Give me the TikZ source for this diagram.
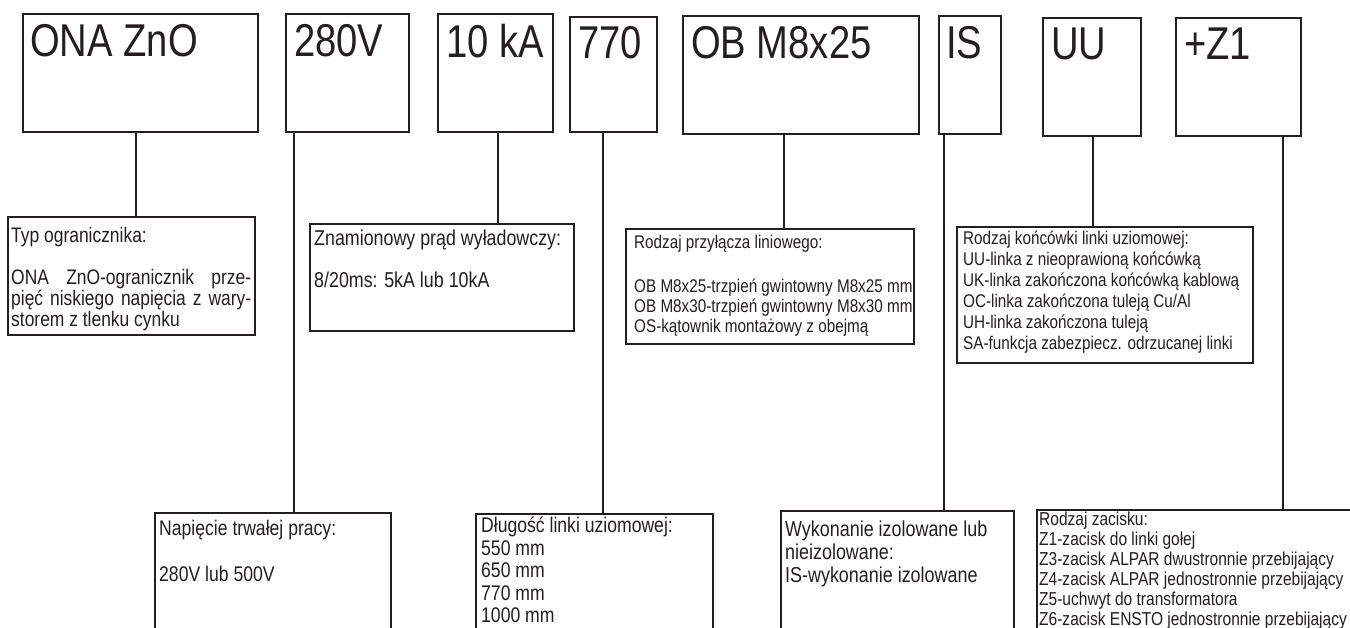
\documentclass[tikz,border=0pt]{standalone}
\usepackage{fontspec}
\setmainfont{Liberation Sans}[FakeStretch=0.83]
\definecolor{ink}{RGB}{35,31,32}
\newcommand{\myfs}[2]{\fontsize{#1}{#2}\selectfont}
\tikzset{
  topbox/.style={draw=ink, line width=1.7pt, inner sep=0pt, anchor=north west},
  descbox/.style={draw=ink, line width=2.3pt, inner sep=0pt, anchor=north west},
  conn/.style={draw=ink, line width=2.5pt},
  bigtxt/.style={anchor=north west, inner sep=0pt, text=ink, font=\myfs{46}{48}},
  txtA/.style={anchor=north west, inner sep=0pt, align=left, text=ink, font=\myfs{21}{21}},
  txtS/.style={anchor=north west, inner sep=0pt, align=left, text=ink, font=\myfs{18.4}{20}},
  txtB/.style={anchor=north west, inner sep=0pt, align=left, text=ink, font=\myfs{21.2}{23}},
}
\begin{document}
\begin{tikzpicture}[x=1pt,y=-1pt]
\useasboundingbox (0,0) rectangle (1350,628);
\clip (0,0) rectangle (1350,628);
\fill[white] (0,0) rectangle (1350,628);
% top boxes
\node[topbox, minimum width=235pt, minimum height=118pt] (t1) at (22,13) {};
\node[topbox, minimum width=123pt, minimum height=118pt] (t2) at (285,13) {};
\node[topbox, minimum width=115pt, minimum height=118pt] (t3) at (437,13) {};
\node[topbox, minimum width=87pt,  minimum height=115pt] (t4) at (569,16) {};
\node[topbox, minimum width=236pt, minimum height=118pt] (t5) at (682,15) {};
\node[topbox, minimum width=62pt,  minimum height=118pt] (t6) at (938,15) {};
\node[topbox, minimum width=98pt,  minimum height=118pt] (t7) at (1042,17) {};
\node[topbox, minimum width=125pt, minimum height=118pt] (t8) at (1175,17) {};
\node[bigtxt] (t1l) at ([xshift=8pt,yshift=-11pt]t1.north west) {ONA ZnO};
\node[bigtxt] (t2l) at ([xshift=9pt,yshift=-11pt]t2.north west) {280V};
\node[bigtxt] (t3l) at ([xshift=9pt,yshift=-11pt]t3.north west) {10 kA};
\node[bigtxt] (t4l) at ([xshift=9pt,yshift=-10pt]t4.north west) {770};
\node[bigtxt] (t5l) at ([xshift=9pt,yshift=-11pt]t5.north west) {OB M8x25};
\node[bigtxt] (t6l) at ([xshift=8pt,yshift=-11pt]t6.north west) {IS};
\node[bigtxt] (t7l) at ([xshift=9pt,yshift=-11pt]t7.north west) {UU};
\node[bigtxt] (t8l) at ([xshift=9pt,yshift=-11pt]t8.north west) {+Z1};
% description boxes, upper row
\node[descbox, minimum width=247pt, minimum height=118pt] (a) at (7,216) {};
\node[descbox, minimum width=264pt, minimum height=107pt] (b) at (309,223) {};
\node[descbox, minimum width=288pt, minimum height=115pt] (c) at (625,228) {};
\node[descbox, minimum width=296pt, minimum height=136pt] (d) at (956,226) {};
% description boxes, lower row (run past the lower edge)
\node[descbox, minimum width=236pt, minimum height=140pt] (e) at (154,512) {};
\node[descbox, minimum width=237pt, minimum height=140pt] (f) at (475,513) {};
\node[descbox, minimum width=233pt, minimum height=140pt] (g) at (780,510) {};
\node[descbox, minimum width=340pt, minimum height=140pt] (h) at (1036,509) {};
% texts
\node[txtA] (at) at ([xshift=4pt,yshift=-11pt]a.north west)
  {Typ ogranicznika:\\[21pt]\makebox[240pt][s]{ONA ZnO-ogranicznik prze-}\\\makebox[240pt][s]{pięć niskiego napięcia z wary-}\\storem z tlenku cynku};
\node[txtA, font=\myfs{21.5}{21}] (bt) at ([xshift=5pt,yshift=-7pt]b.north west)
  {Znamionowy prąd wyładowczy:\\[21pt]8/20ms: 5kA lub 10kA};
\node[txtS] (ct) at ([xshift=9pt,yshift=-7pt]c.north west)
  {Rodzaj przyłącza liniowego:\\[24pt]OB M8x25-trzpień gwintowny M8x25 mm\\OB M8x30-trzpień gwintowny M8x30 mm\\OS-kątownik montażowy z obejmą};
\node[txtS, font=\myfs{18.4}{21}] (dt) at ([xshift=7pt,yshift=-4.5pt]d.north west)
  {Rodzaj końcówki linki uziomowej:\\UU-linka z nieoprawioną końcówką\\UK-linka zakończona końcówką kablową\\OC-linka zakończona tuleją Cu/Al\\UH-linka zakończona tuleją\\SA-funkcja zabezpiecz. odrzucanej linki};
\node[txtB] (et) at ([xshift=5pt,yshift=-8pt]e.north west)
  {Napięcie trwałej pracy:\\[23pt]280V lub 500V};
\node[txtB, font=\myfs{21.2}{22.5}] (ft) at ([xshift=6pt,yshift=-4pt]f.north west)
  {Długość linki uziomowej:\\550 mm\\650 mm\\770 mm\\1000 mm};
\node[txtB, font=\myfs{21.6}{23}] (gt) at ([xshift=5pt,yshift=-11pt]g.north west)
  {Wykonanie izolowane lub\\nieizolowane:\\IS-wykonanie izolowane};
\node[txtS, font=\myfs{18.7}{20}] (ht) at ([xshift=3pt,yshift=-2.5pt]h.north west)
  {Rodzaj zacisku:\\Z1-zacisk do linki gołej\\Z3-zacisk ALPAR dwustronnie przebijający\\Z4-zacisk ALPAR jednostronnie przebijający\\Z5-uchwyt do transformatora\\Z6-zacisk ENSTO jednostronnie przebijający};
% connector columns
\coordinate (x1) at (136,0);
\coordinate (x2) at (294,0);
\coordinate (x3) at (498,0);
\coordinate (x4) at (603,0);
\coordinate (x5) at (784,0);
\coordinate (x6) at (944,0);
\coordinate (x7) at (1093,0);
\coordinate (x8) at (1283,0);
\draw[conn] (t1.south -| x1) -- (a.north -| x1);
\draw[conn] (t2.south -| x2) -- (e.north -| x2);
\draw[conn] (t3.south -| x3) -- (b.north -| x3);
\draw[conn] (t4.south -| x4) -- (f.north -| x4);
\draw[conn] (t5.south -| x5) -- (c.north -| x5);
\draw[conn] (t6.south -| x6) -- (g.north -| x6);
\draw[conn] (t7.south -| x7) -- (d.north -| x7);
\draw[conn] (t8.south -| x8) -- (h.north -| x8);
\end{tikzpicture}
\end{document}
